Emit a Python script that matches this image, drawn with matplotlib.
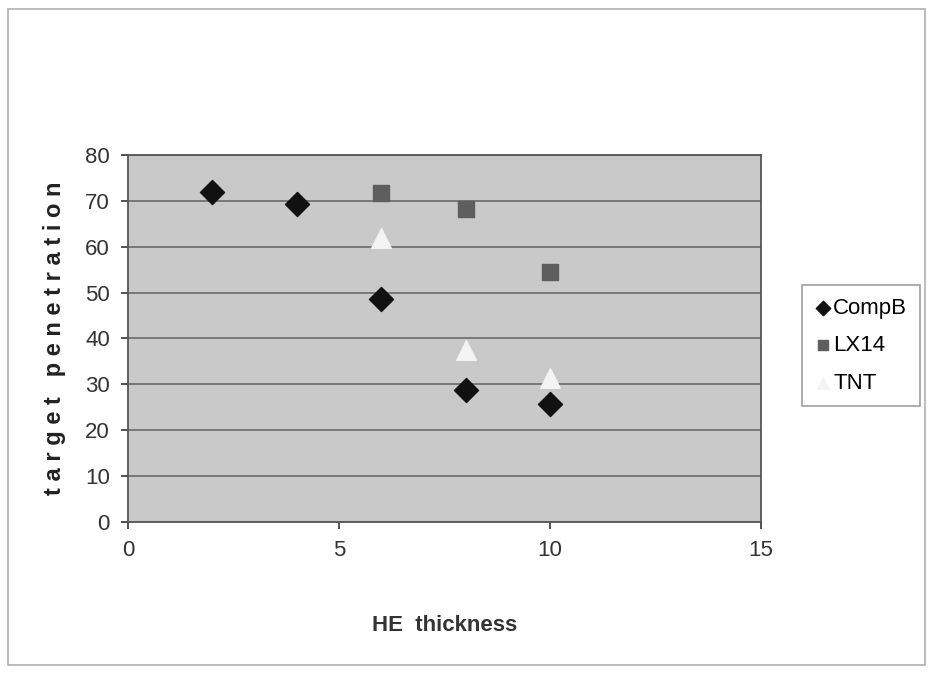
import matplotlib.pyplot as plt
from matplotlib.patches import Rectangle

he_thickness = [2, 4, 6, 8, 10]
compb = [72, 69.3, 48.7, 28.8, 25.7]
lx14_x = [6, 8, 10]
lx14 = [71.8, 68.3, 54.6]
tnt_x = [6, 8, 10]
tnt = [62, 37.5, 31.3]

plt.rcParams['font.family'] = ['Liberation Sans', 'DejaVu Sans']

fig = plt.figure(figsize=(9.31, 6.75), dpi=100)
fig.patch.set_facecolor('white')
fig.patches.append(Rectangle((0.009, 0.015), 0.985, 0.972, transform=fig.transFigure,
                             fill=False, edgecolor='#b0b0b0', linewidth=1.2))

ax = fig.add_axes([0.1375, 0.2267, 0.6800, 0.5437])
ax.set_facecolor('#c9c9c9')

ax.scatter(he_thickness, compb, marker='D', s=150, color='#111111', label='CompB', zorder=3)
ax.scatter(lx14_x, lx14, marker='s', s=140, color='#5e5e5e', label='LX14', zorder=3)
ax.scatter(tnt_x, tnt, marker='^', s=200, color='#f4f4f4', label='TNT', zorder=3)

ax.set_xlim(0, 15)
ax.set_ylim(0, 80)
ax.set_xticks([0, 5, 10, 15])
ax.set_yticks(range(0, 90, 10))
ax.yaxis.grid(True, color='#6a6a6a', linewidth=1.2)
ax.set_axisbelow(True)
for s in ax.spines.values():
    s.set_color('#555555')
    s.set_linewidth(1.3)
ax.tick_params(labelsize=16, colors='#333333', length=5, width=1.2, pad=8)

ax.set_xlabel('HE  thickness', fontsize=16, fontweight='bold', color='#333333', labelpad=39)
ax.set_ylabel('t a r g e t   p e n e t r a t i o n', fontsize=17, fontweight='bold',
              color='#222222', labelpad=14)

leg = ax.legend(loc='center left', bbox_to_anchor=(1.065, 0.48), fontsize=16,
                frameon=True, fancybox=False, edgecolor='#888888', handletextpad=0.05,
                borderpad=0.55, labelspacing=0.75, markerscale=0.6, handlelength=0.8,
                borderaxespad=0)
leg.get_frame().set_linewidth(1.2)

fig.savefig('out.png', dpi=100)
